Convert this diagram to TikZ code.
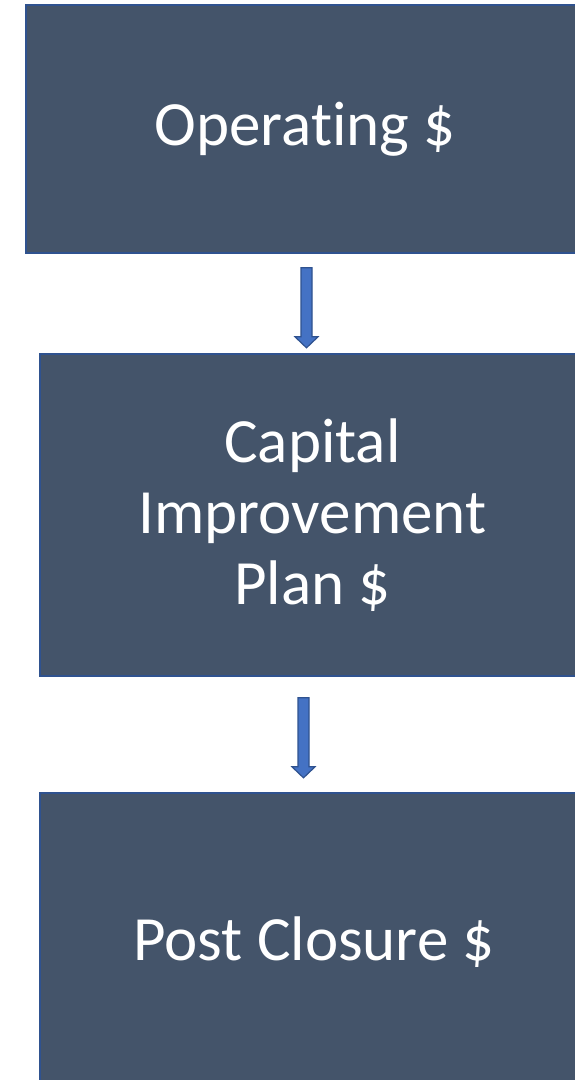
\documentclass[tikz,border=0pt]{standalone}
\usepackage{fontspec}
\setmainfont{Carlito}[Ligatures={NoCommon}]
\usetikzlibrary{calc}
\definecolor{boxfill}{HTML}{44546A}
\definecolor{boxline}{HTML}{2F528F}
\definecolor{arrfill}{HTML}{4472C4}
\tikzset{
  stagebox/.style={rectangle, draw=boxline, fill=boxfill, line width=1.6pt,
    text=white, align=center, inner sep=0pt,
    font=\fontsize{63}{71}\selectfont},
  blockarr/.style={draw=boxline, fill=arrfill, line width=1.2pt, line join=miter}
}
\begin{document}
\begin{tikzpicture}[x=1pt,y=-1pt]
\useasboundingbox (0,0) rectangle (575,1080);
\fill[white] (0,0) rectangle (575,1080);
\clip (0,0) rectangle (575,1080);
\node[stagebox, minimum width=558pt, minimum height=248pt] (op) at (305,129) {Operating \$};
\node[stagebox, minimum width=545pt, minimum height=322pt] (cip) at (312.5,515) {Capital\\Improvement\\Plan \$};
\node[stagebox, minimum width=548pt, minimum height=298pt] (pc) at (314,942) {Post Closure \$};
% arrow 1: from below Operating box to above CIP box
\coordinate (a1t) at ($(op.south)+(1.5,14)$);
\coordinate (a1h) at ($(a1t)+(0,80)$);
\filldraw[blockarr] ($(a1t)+(-5.5,0)$) -- ($(a1t)+(5.5,0)$) -- ($(a1h)+(5.5,-11)$) -- ($(a1h)+(11.5,-11)$) -- (a1h) -- ($(a1h)+(-11.5,-11)$) -- ($(a1h)+(-5.5,-11)$) -- cycle;
% arrow 2: from below CIP box to above Post Closure box
\coordinate (a2t) at ($(cip.south)+(-9,21)$);
\coordinate (a2h) at ($(a2t)+(0,80)$);
\filldraw[blockarr] ($(a2t)+(-5.5,0)$) -- ($(a2t)+(5.5,0)$) -- ($(a2h)+(5.5,-11)$) -- ($(a2h)+(11.5,-11)$) -- (a2h) -- ($(a2h)+(-11.5,-11)$) -- ($(a2h)+(-5.5,-11)$) -- cycle;
\end{tikzpicture}
\end{document}
